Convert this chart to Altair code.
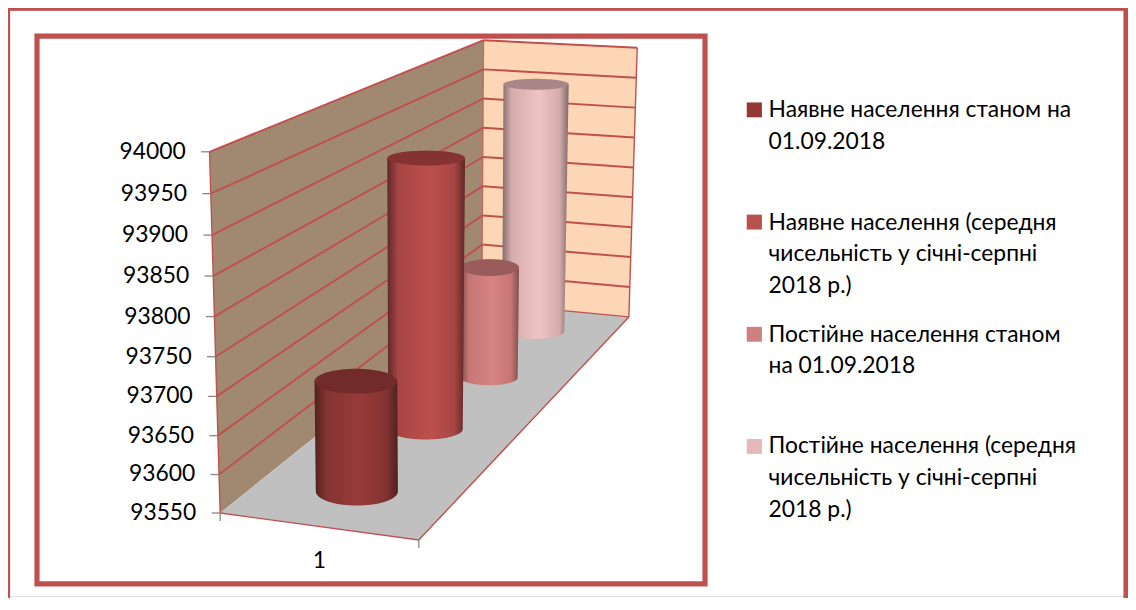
import math
import altair as alt
import pandas as pd

# ---- values ----
AXIS_TICKS = [93550, 93600, 93650, 93700, 93750, 93800, 93850, 93900, 93950, 94000]
CATEGORY = "1"
SERIES_VALUES = [93700, 93935, 93720, 93965]
SERIES_COLORS = ["#953735", "#B9504E", "#CF7F7D", "#E6B9B8"]
LEGEND_LINES = [
    ["Наявне населення станом на", "01.09.2018"],
    ["Наявне населення (середня", "чисельність у січні-серпні", "2018 р.)"],
    ["Постійне населення станом", "на 01.09.2018"],
    ["Постійне населення (середня", "чисельність у січні-серпні", "2018 р.)"],
]

W, H = 1128, 590
OFF = 8
RED = "#C0504D"
FONT = "Lato"
AXIS_MIN, AXIS_MAX = AXIS_TICKS[0], AXIS_TICKS[-1]

x_enc = dict(scale=alt.Scale(domain=[0, W], range=[0, W]), axis=None)
y_enc = dict(scale=alt.Scale(domain=[0, H], range=[0, H]), axis=None)


def X(field="x"):
    return alt.X(f"{field}:Q", **x_enc)


def Y(field="y"):
    return alt.Y(f"{field}:Q", **y_enc)


def frac(v):
    return (v - AXIS_MIN) / (AXIS_MAX - AXIS_MIN)


# wall edges: position of an axis value on the front, back and right vertical edges
def front(t):
    return (221.7 - 10.7 * t - OFF, (514.5 - 370.8 * t) / (1 - 0.0466 * t) - OFF)


def back(t):
    return (485.3 + 1.7 * t - OFF, 303 - 264.7 * t - OFF)


def right(t):
    return (633.3 + 8.4 * t - OFF, 317 - 271 * t - OFF)


FLOOR_FRONT = (421.7 - OFF, 541.7 - OFF)


def convex_table(points):
    """Top and bottom outline of a convex outline, so an area mark can fill it."""
    n = len(points)
    xs = sorted({round(p[0], 3) for p in points})
    rows = []
    for xv in xs:
        hits = []
        for i in range(n):
            (x0, y0), (x1, y1) = points[i], points[(i + 1) % n]
            lo, hi = min(x0, x1), max(x0, x1)
            if lo - 1e-3 <= xv <= hi + 1e-3:
                if abs(x1 - x0) < 1e-6:
                    hits += [y0, y1]
                else:
                    hits.append(y0 + (y1 - y0) * (xv - x0) / (x1 - x0))
        rows.append({"x": xv, "y": min(hits), "y2": max(hits)})
    return pd.DataFrame(rows)


def fill_area(points, color, **kw):
    return (
        alt.Chart(convex_table(points))
        .mark_area(color=color, interpolate="linear", **kw)
        .encode(x=X(), y=Y(), y2="y2:Q")
    )


def path(points, color=RED, width=1.2, opacity=1.0):
    df = pd.DataFrame([{"x": p[0], "y": p[1], "i": i} for i, p in enumerate(points)])
    return (
        alt.Chart(df)
        .mark_line(color=color, strokeWidth=width, opacity=opacity, interpolate="linear")
        .encode(x=X(), y=Y(), order="i:Q")
    )


def sided(dark, mid, peak):
    return alt.LinearGradient(
        gradient="linear",
        x1=0, x2=1, y1=0, y2=0,
        stops=[
            alt.GradientStop(offset=0, color=dark),
            alt.GradientStop(offset=0.14, color=mid),
            alt.GradientStop(offset=0.55, color=peak),
            alt.GradientStop(offset=0.86, color=mid),
            alt.GradientStop(offset=1, color=dark),
        ],
    )


def cylinder(value, ppu, xl, xr, xbl, xbr, base, b_top, b_bot, grad, cap):
    top = base - (value - AXIS_MIN) * ppu - OFF
    base = base - OFF
    xl, xr, xbl, xbr = xl - OFF, xr - OFF, xbl - OFF, xbr - OFF
    cx, rx = (xbl + xbr) / 2, (xbr - xbl) / 2
    outline = [(xl, top), (xr, top)]
    for k in range(0, 37):
        a = math.pi * k / 36
        outline.append((cx + rx * math.cos(a), base + b_bot * math.sin(a)))
    body = fill_area(outline, grad)
    cx2, rx2 = (xl + xr) / 2, (xr - xl) / 2
    ell = []
    for k in range(72):
        a = 2 * math.pi * k / 72
        ell.append((cx2 + rx2 * math.cos(a), top + b_top * math.sin(a)))
    return [body, fill_area(ell, cap)]


layers = []

# frames
frame = pd.DataFrame(
    [
        {"x": 7.5 - OFF, "x2": 1134 - OFF, "y": 6 - OFF, "y2": 900, "w": 5},
        {"x": 37.2 - OFF, "x2": 710 - OFF, "y": 34.2 - OFF, "y2": 585.8 - OFF, "w": 5.2},
    ]
)
layers.append(
    alt.Chart(frame)
    .mark_rect(fillOpacity=0, stroke=RED, strokeWidth=5.2)
    .encode(x=X(), x2="x2:Q", y=Y(), y2="y2:Q")
)

# walls and floor
f0, f1, b0, b1, r0, r1 = front(0), front(1), back(0), back(1), right(0), right(1)
layers.append(fill_area([f1, b1, b0, f0], "#A08970"))
layers.append(fill_area([b1, r1, r0, b0], "#FDD6B6"))
layers.append(fill_area([f0, b0, r0, FLOOR_FRONT], "#C0C0C0"))

# grid lines on both walls
for v in AXIS_TICKS[1:]:
    t = frac(v)
    layers.append(path([front(t), back(t)], width=2))
    layers.append(path([back(t), right(t)], width=2))

# wall and floor edges
layers.append(path([f0, f1], width=1.4))
layers.append(path([b0, b1], width=1.2, opacity=0.8))
layers.append(path([r0, r1], width=1.4))
layers.append(path([b0, r0], width=1.2))
layers.append(path([f0, FLOOR_FRONT, r0], width=1.4))

# axis ticks and labels
tick_rows = []
for v in AXIS_TICKS:
    fx, fy = front(frac(v))
    tick_rows.append({"x": fx - 8.5, "x2": fx, "y": fy, "lx": fx - 24, "label": str(v)})
ticks = pd.DataFrame(tick_rows)
layers.append(
    alt.Chart(ticks)
    .mark_rule(color="#868686", strokeWidth=1.3)
    .encode(x=X(), x2="x2:Q", y=Y())
)
layers.append(
    alt.Chart(ticks)
    .mark_text(font=FONT, fontSize=23, align="right", baseline="middle", color="#000000")
    .encode(x=X("lx"), y=Y(), text="label:N")
)
cat_ticks = pd.DataFrame(
    [
        {"x": f0[0], "y": f0[1], "y2": f0[1] + 8},
        {"x": FLOOR_FRONT[0], "y": FLOOR_FRONT[1], "y2": FLOOR_FRONT[1] + 8},
    ]
)
layers.append(
    alt.Chart(cat_ticks)
    .mark_rule(color="#868686", strokeWidth=1.3)
    .encode(x=X(), y=Y(), y2="y2:Q")
)
layers.append(
    alt.Chart(
        pd.DataFrame(
            [{"x": (f0[0] + FLOOR_FRONT[0]) / 2, "y": 563 - OFF, "label": CATEGORY}]
        )
    )
    .mark_text(font=FONT, fontSize=23, align="center", baseline="middle", color="#000000")
    .encode(x=X(), y=Y(), text="label:N")
)

# cylinders, back to front
layers += cylinder(
    SERIES_VALUES[3], 0.60, 507, 572.7, 505.7, 568.3, 331.7, 5.5, 7.5,
    sided("#7D6B6B", "#D6ACAB", "#EEC5C4"), "#A98687",
)
layers += cylinder(
    SERIES_VALUES[2], 0.653, 464, 522.7, 464, 521.3, 378.3, 8.5, 7.5,
    sided("#7F4E4E", "#C77675", "#D78483"), "#995C5B",
)
layers += cylinder(
    SERIES_VALUES[1], 0.709, 390, 468.3, 391, 466, 430, 7.5, 10.5,
    sided("#5E2826", "#A84644", "#BC4F4C"), "#853332",
)
layers += cylinder(
    SERIES_VALUES[0], 0.74, 316.7, 400, 318, 400.7, 492.7, 12.5, 14.3,
    sided("#4F2120", "#843331", "#973B39"), "#712B2A",
)

# legend
line_rows, swatch_rows = [], []
line_y = [[109, 141], [222, 254, 286], [335, 367], [447, 479, 512]]
sw_y = [101, 214, 327, 440]
for name_lines, ys, s, c in zip(LEGEND_LINES, line_y, sw_y, SERIES_COLORS):
    swatch_rows.append({"x": 752 - OFF, "x2": 767.3 - OFF, "y": s - OFF, "y2": s + 15 - OFF, "c": c})
    for txt, yy in zip(name_lines, ys):
        line_rows.append({"x": 774 - OFF, "y": yy - OFF, "label": txt})
layers.append(
    alt.Chart(pd.DataFrame(swatch_rows))
    .mark_rect()
    .encode(x=X(), x2="x2:Q", y=Y(), y2="y2:Q", color=alt.Color("c:N", scale=None))
)
layers.append(
    alt.Chart(pd.DataFrame(line_rows))
    .mark_text(font=FONT, fontSize=23, align="left", baseline="middle", color="#000000")
    .encode(x=X(), y=Y(), text="label:N")
)

chart = (
    alt.layer(*layers)
    .properties(width=W, height=H, padding=0, autosize=alt.AutoSizeParams(type="none"))
    .configure_view(stroke=None)
    .configure(background="#FFFFFF")
)
chart.save("out.html", embed_options={"renderer": "svg", "actions": False})
